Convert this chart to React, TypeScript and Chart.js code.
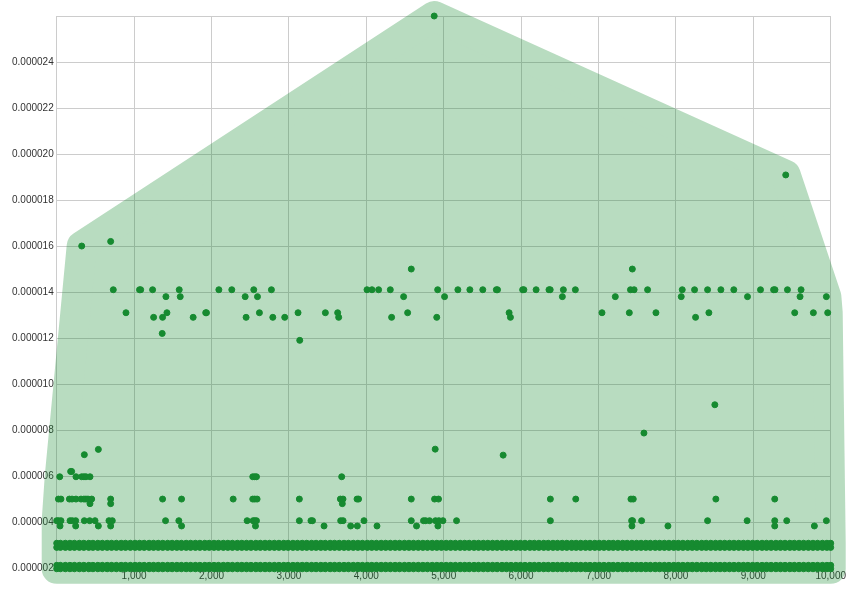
import React, { useEffect, useRef } from 'react';
import { Chart, registerables } from 'chart.js';

Chart.register(...registerables);

// x ticks (the 0 label is not shown in the reference)
const xTicks = [0, 1000, 2000, 3000, 4000, 5000, 6000, 7000, 8000, 9000, 10000];
const yTicks = [0.000002, 0.000004, 0.000006, 0.000008, 0.00001, 0.000012, 0.000014, 0.000016, 0.000018, 0.00002, 0.000022, 0.000024, 0.000026];

// dense bands along the bottom: same x positions on four levels
const bandLevels = [0.00000197, 0.00000212, 0.0000029, 0.00000308];
const bandX = [
  0, 48, 112, 171, 229, 293, 350, 414, 468, 531, 590, 652, 709, 771, 833, 889, 952, 1013, 1071, 1130,
  1194, 1251, 1312, 1370, 1433, 1491, 1552, 1611, 1673, 1730, 1792, 1850, 1913, 1971, 2032, 2090, 2153,
  2211, 2270, 2334, 2391, 2452, 2510, 2573, 2631, 2692, 2750, 2812, 2871, 2933, 2990, 3052, 3111, 3172,
  3230, 3293, 3351, 3412, 3470, 3533, 3590, 3651, 3712, 3770, 3832, 3891, 3950, 4013, 4070, 4131, 4192,
  4250, 4311, 4372, 4430, 4493, 4551, 4610, 4672, 4731, 4790, 4852, 4911, 4970, 5032, 5090, 5151, 5213,
  5271, 5330, 5392, 5450, 5512, 5570, 5631, 5690, 5753, 5811, 5870, 5932, 5991, 6050, 6113, 6171, 6230,
  6292, 6351, 6412, 6470, 6531, 6590, 6653, 6711, 6770, 6832, 6890, 6952, 7011, 7070, 7133, 7190, 7251,
  7312, 7370, 7431, 7492, 7550, 7611, 7670, 7733, 7790, 7851, 7910, 7972, 8031, 8090, 8152, 8211, 8270,
  8333, 8391, 8450, 8512, 8571, 8630, 8692, 8750, 8811, 8872, 8930, 8991, 9050, 9113, 9171, 9230, 9292,
  9351, 9410, 9472, 9530, 9591, 9650, 9712, 9771, 9830, 9893, 9951, 10000,
];

// rows of scattered points: x values per y level
const xAt383 = [43, 245, 538, 697, 1613, 2568, 3454, 3798, 3884, 4138, 4649, 4925, 7432, 7897, 9277, 9789];
const xAt406 = [0, 22, 55, 172, 202, 245, 357, 426, 495, 675, 718, 1406, 1578, 2460, 2538, 2559, 2581, 3135, 3285, 3305,
  3669, 3700, 3970, 4581, 4739, 4766, 4817, 4894, 4938, 4990, 5166, 6378, 7428, 7440, 7557, 8409, 8920, 9277, 9432, 9944];
const xAt480 = [430, 697, 3690];
const xAt500 = [22, 55, 164, 198, 249, 314, 352, 378, 404, 452, 697, 1368, 1613, 2280, 2533, 2559, 2589, 3135, 3665, 3699,
  3880, 3900, 4581, 4882, 4933, 6378, 6706, 7419, 7449, 8516, 9277];
const xAt597 = [39, 249, 323, 352, 378, 430, 2533, 2559, 2581, 3682];
const xAt1290 = [1252, 1368, 1763, 2447, 2792, 2946, 3643, 4327, 4910, 5862, 8254];
const xAt1310 = [895, 1424, 1925, 1935, 2619, 3118, 3471, 3630, 4534, 5845, 7045, 7398, 7742, 8426, 9535, 9776, 9961];
const xAt1380 = [1411, 1596, 2435, 2594, 4482, 5011, 6533, 7217, 8069, 8925, 9604, 9944];
const xAt1410 = [731, 1070, 1085, 1239, 1583, 2095, 2262, 2546, 2774, 4009, 4073, 4159, 4310, 4922, 5183, 5338, 5505, 5680,
  5695, 6020, 6036, 6194, 6360, 6376, 6546, 6701, 7413, 7460, 7634, 8082, 8241, 8409, 8581, 8748, 9093, 9262, 9280, 9441, 9617];
const xAt1500 = [4581, 7437];

const rowLevels = [0.00000383, 0.00000406, 0.0000048, 0.000005, 0.00000597, 0.0000129, 0.0000131, 0.0000138, 0.0000141, 0.000015];
const rowXs = [xAt383, xAt406, xAt480, xAt500, xAt597, xAt1290, xAt1310, xAt1380, xAt1410, xAt1500];

// single outliers
const outlierX = [180, 193, 357, 538, 4890, 5768, 7587, 8503, 1363, 3140, 323, 697, 9419, 4877];
const outlierY = [0.0000062, 0.0000062, 0.00000693, 0.00000716, 0.00000717, 0.00000691, 0.00000787, 0.0000091,
  0.0000122, 0.0000119, 0.000016, 0.0000162, 0.00001909, 0.000026];

const GREEN = '#168a30';

type P = { x: number; y: number };

function convexHull(points: P[]): P[] {
  const pts = points.slice().sort((a, b) => (a.x === b.x ? a.y - b.y : a.x - b.x));
  if (pts.length < 3) return pts;
  const cross = (o: P, a: P, b: P) => (a.x - o.x) * (b.y - o.y) - (a.y - o.y) * (b.x - o.x);
  const lower: P[] = [];
  for (const p of pts) {
    while (lower.length >= 2 && cross(lower[lower.length - 2], lower[lower.length - 1], p) <= 0) lower.pop();
    lower.push(p);
  }
  const upper: P[] = [];
  for (let i = pts.length - 1; i >= 0; i--) {
    const p = pts[i];
    while (upper.length >= 2 && cross(upper[upper.length - 2], upper[upper.length - 1], p) <= 0) upper.pop();
    upper.push(p);
  }
  upper.pop();
  lower.pop();
  return lower.concat(upper);
}

// translucent rounded hull behind the points
const hullPlugin = {
  id: 'hull',
  beforeDatasetsDraw(chart: any) {
    const meta = chart.getDatasetMeta(0);
    const hull = convexHull(meta.data.map((e: any) => ({ x: e.x, y: e.y })));
    if (!hull.length) return;
    const off = document.createElement('canvas');
    off.width = chart.canvas.width;
    off.height = chart.canvas.height;
    const o = off.getContext('2d');
    if (!o) return;
    const r = chart.currentDevicePixelRatio || 1;
    o.scale(r, r);
    o.beginPath();
    hull.forEach((p, i) => (i ? o.lineTo(p.x, p.y) : o.moveTo(p.x, p.y)));
    o.closePath();
    o.fillStyle = GREEN;
    o.strokeStyle = GREEN;
    o.lineWidth = 30;
    o.lineJoin = 'round';
    o.fill();
    o.stroke();
    const ctx = chart.ctx;
    ctx.save();
    ctx.setTransform(1, 0, 0, 1, 0, 0);
    ctx.globalAlpha = 0.3;
    ctx.drawImage(off, 0, 0);
    ctx.restore();
  },
};

export default function App() {
  const canvasRef = useRef<HTMLCanvasElement>(null);
  const chartRef = useRef<Chart | null>(null);

  useEffect(() => {
    document.body.style.margin = '0';
    if (!canvasRef.current) return;
    const ctx = canvasRef.current.getContext('2d');
    if (!ctx) return;
    if (chartRef.current) chartRef.current.destroy();

    const points: P[] = [];
    bandLevels.forEach((y) => bandX.forEach((x) => points.push({ x, y })));
    rowLevels.forEach((y, i) => rowXs[i].forEach((x) => points.push({ x, y })));
    outlierX.forEach((x, i) => points.push({ x, y: outlierY[i] }));

    const tickFont = { size: 10, family: '"Liberation Sans", Arial, sans-serif' };

    chartRef.current = new Chart(ctx, {
      type: 'scatter',
      data: {
        datasets: [
          {
            data: points,
            backgroundColor: GREEN,
            borderColor: GREEN,
            pointRadius: 3,
            pointBorderWidth: 1,
            clip: false,
          } as any,
        ],
      },
      options: {
        responsive: true,
        maintainAspectRatio: false,
        animation: false,
        layout: { padding: { top: 16, right: 12, bottom: 17, left: 9 } },
        plugins: { legend: { display: false }, tooltip: { enabled: false } },
        scales: {
          x: {
            type: 'linear',
            min: 0,
            max: 10000,
            afterBuildTicks: (s: any) => { s.ticks = xTicks.map((value) => ({ value })); },
            ticks: {
              color: '#333',
              font: tickFont,
              padding: 1,
              maxRotation: 0,
              autoSkip: false,
              callback: (v: any) => (v === 0 ? '' : Number(v).toLocaleString('en-US')),
            },
            grid: { color: '#cccccc', drawTicks: false },
            border: { color: '#cccccc' },
          },
          y: {
            type: 'linear',
            min: 0.00000196,
            max: 0.000026,
            afterBuildTicks: (s: any) => { s.ticks = yTicks.map((value) => ({ value })); },
            ticks: {
              color: '#333',
              font: tickFont,
              padding: 3,
              autoSkip: false,
              callback: (v: any) => (Number(v) > 0.0000255 ? '' : Number(v).toFixed(6)),
            },
            grid: { color: '#cccccc', drawTicks: false },
            border: { color: '#cccccc' },
          },
        },
      },
      plugins: [hullPlugin],
    });

    return () => { if (chartRef.current) chartRef.current.destroy(); };
  }, []);

  return (
    <div style={{ width: 847, height: 600, position: 'relative' }}>
      <canvas ref={canvasRef} />
    </div>
  );
}
